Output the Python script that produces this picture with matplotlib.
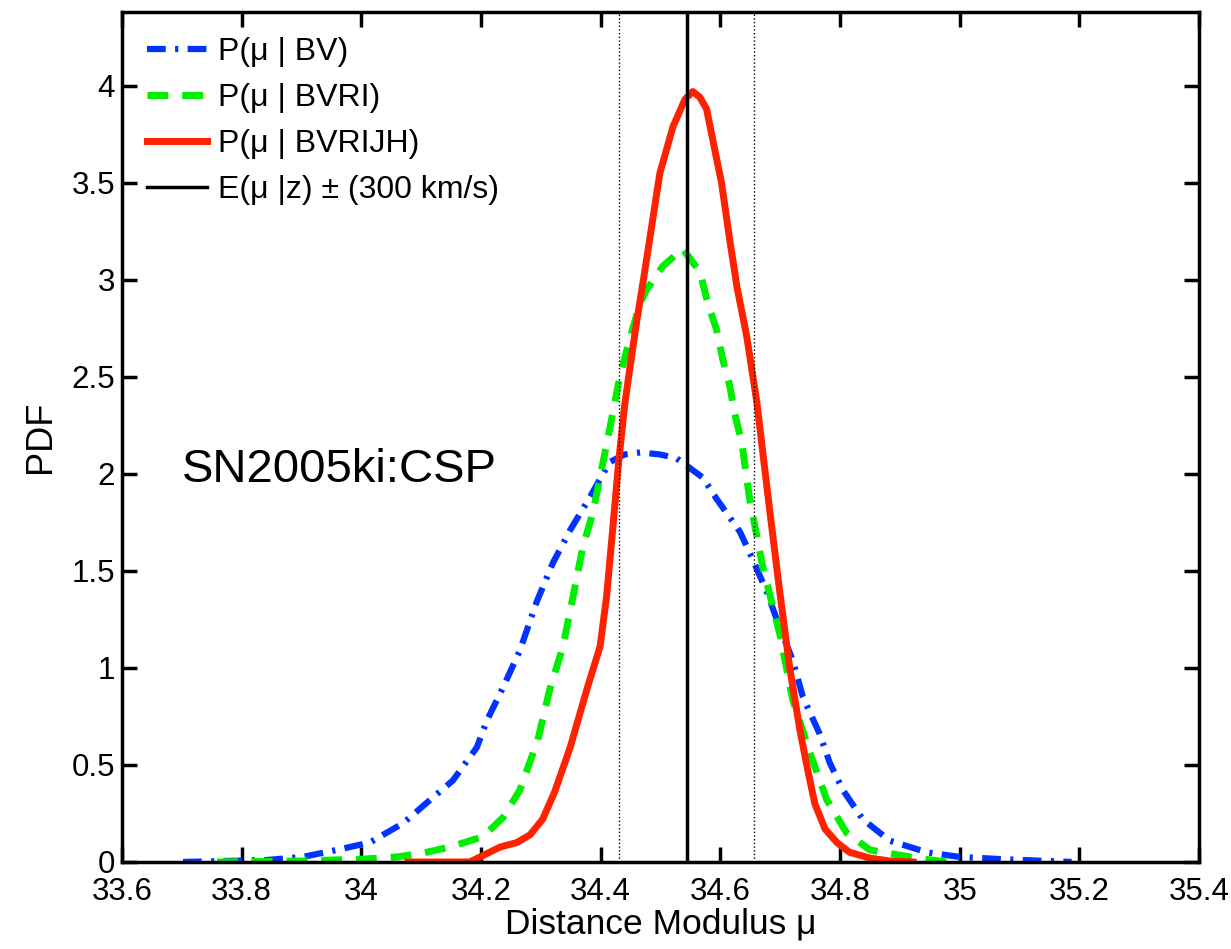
import numpy as np
import matplotlib.pyplot as plt

plt.rcParams['font.family'] = ['Liberation Sans', 'DejaVu Sans']

# P(mu | BV)
mu_bv = [33.702, 33.842, 33.902, 33.959, 34.014, 34.070, 34.115, 34.153, 34.193, 34.210,
         34.237, 34.265, 34.293, 34.320, 34.349, 34.382, 34.415, 34.440, 34.466, 34.499,
         34.527, 34.549, 34.571, 34.594, 34.633, 34.654, 34.678, 34.699, 34.721, 34.738,
         34.766, 34.783, 34.805, 34.838, 34.883, 34.945, 35.000, 35.067, 35.187]
pdf_bv = [0.0, 0.01, 0.026, 0.062, 0.10, 0.20, 0.32, 0.42, 0.59, 0.73,
          0.90, 1.09, 1.34, 1.54, 1.71, 1.88, 2.06, 2.10, 2.11, 2.10,
          2.08, 2.03, 1.98, 1.87, 1.70, 1.56, 1.39, 1.21, 1.04, 0.85,
          0.66, 0.51, 0.37, 0.22, 0.11, 0.05, 0.026, 0.015, 0.0]

# P(mu | BVRI)
mu_bvri = [33.759, 33.897, 34.003, 34.060, 34.103, 34.148, 34.203, 34.237, 34.265, 34.295,
           34.315, 34.337, 34.354, 34.370, 34.387, 34.404, 34.415, 34.432, 34.449, 34.466,
           34.477, 34.504, 34.537, 34.566, 34.579, 34.594, 34.604, 34.616, 34.624, 34.636,
           34.649, 34.671, 34.699, 34.721, 34.750, 34.778, 34.811, 34.850, 34.928, 34.978]
pdf_bvri = [0.0, 0.005, 0.015, 0.026, 0.046, 0.077, 0.13, 0.23, 0.37, 0.63,
            0.89, 1.11, 1.37, 1.62, 1.80, 2.06, 2.23, 2.50, 2.70, 2.88,
            2.95, 3.07, 3.16, 3.04, 2.88, 2.74, 2.59, 2.45, 2.31, 2.16,
            1.87, 1.52, 1.18, 0.835, 0.56, 0.32, 0.15, 0.062, 0.02, 0.0]

# P(mu | BVRIJH)
mu_all = [34.078, 34.181, 34.198, 34.232, 34.260, 34.282, 34.303, 34.323, 34.349, 34.377,
          34.399, 34.410, 34.420, 34.430, 34.440, 34.449, 34.460, 34.474, 34.487, 34.499,
          34.521, 34.541, 34.554, 34.566, 34.577, 34.594, 34.602, 34.616, 34.628, 34.644,
          34.661, 34.671, 34.683, 34.699, 34.716, 34.733, 34.745, 34.758, 34.775, 34.795,
          34.816, 34.850, 34.883, 34.922]
pdf_all = [0.0, 0.0, 0.025, 0.077, 0.10, 0.14, 0.22, 0.36, 0.59, 0.89,
           1.11, 1.37, 1.71, 2.06, 2.35, 2.55, 2.78, 3.05, 3.31, 3.55,
           3.79, 3.93, 3.97, 3.94, 3.88, 3.62, 3.50, 3.20, 2.96, 2.71,
           2.37, 2.11, 1.80, 1.40, 1.00, 0.68, 0.49, 0.30, 0.17, 0.10,
           0.05, 0.02, 0.005, 0.0]

mu_z = 34.544
mu_z_err = 0.113

fig = plt.figure(figsize=(12.31, 9.49), dpi=100)
ax = fig.add_axes([0.0991, 0.0917, 0.8749, 0.8957])

ax.plot(mu_bv, pdf_bv, color='#0033ff', lw=4.5, dashes=(3, 1.5, 0.5, 1.5), label='P(μ | BV)')
ax.plot(mu_bvri, pdf_bvri, color='#00ee00', lw=5, dashes=(3, 2), label='P(μ | BVRI)')
ax.plot(mu_all, pdf_all, color='#ff2200', lw=5, label='P(μ | BVRIJH)')
ax.axvline(mu_z, color='k', lw=2.5, label='E(μ |z) ± (300 km/s)')
ax.axvline(mu_z - mu_z_err, color='k', lw=1.0, ls=':')
ax.axvline(mu_z + mu_z_err, color='k', lw=1.0, ls=':')

ax.text(33.70, 2.02, 'SN2005ki:CSP', fontsize=34, va='center', ha='left')

xt = np.arange(33.6, 35.41, 0.2)
ax.set_xlim(33.6, 35.4)
ax.set_ylim(0, 4.38)
ax.set_xticks(xt)
ax.set_xticklabels(['%g' % round(v, 1) for v in xt])
yt = np.arange(0, 4.01, 0.5)
ax.set_yticks(yt)
ax.set_yticklabels(['%g' % v for v in yt])
ax.tick_params(direction='in', length=11, width=2.5, top=True, right=True,
               labelsize=22.5)
ax.tick_params(axis='x', pad=10.5)
ax.tick_params(axis='y', pad=5)
for s in ax.spines.values():
    s.set_linewidth(2.5)

ax.set_xlabel('Distance Modulus μ', fontsize=25.5, labelpad=1)
ax.set_ylabel('PDF', fontsize=26, labelpad=10)

ax.legend(loc='upper left', frameon=False, fontsize=23, handlelength=1.9,
          handletextpad=0.35, labelspacing=0.5, borderaxespad=0.0,
          bbox_to_anchor=(0.011, 0.985))

fig.savefig('out.png', dpi=100)
